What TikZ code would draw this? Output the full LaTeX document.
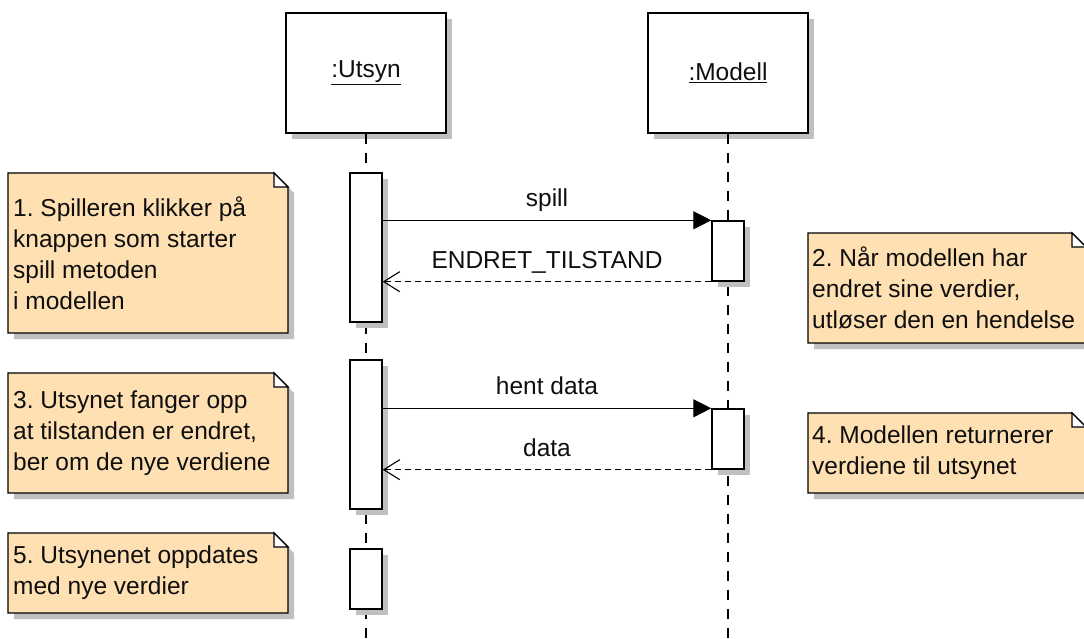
\documentclass[tikz,border=0pt]{standalone}
\usepackage{fontspec}
\setmainfont{Liberation Sans}
\usetikzlibrary{arrows.meta,shadows,calc}
\definecolor{notefill}{RGB}{255,224,178}
\definecolor{shadowgray}{RGB}{192,192,192}
\definecolor{txt}{RGB}{15,15,15}
\frenchspacing
\begin{document}
\begin{tikzpicture}[x=1pt,y=-1pt,
  every node/.style={font=\frenchspacing\fontsize{24.5}{31}\selectfont, text=txt},
  shad/.style={drop shadow={shadow xshift=6pt, shadow yshift=-6pt, fill=shadowgray, opacity=1}},
  header/.style={draw, line width=1.4pt, fill=white, shad, minimum width=160pt, minimum height=120pt, inner sep=0pt},
  actbox/.style={draw, line width=1.4pt, fill=white, shad, minimum width=32pt, inner sep=0pt},
  lifeline/.style={line width=1.3pt, dash pattern=on 10pt off 9pt},
  notebody/.style={draw, line width=1.3pt, fill=notefill, shad},
  foldcorner/.style={draw, line width=1.1pt, fill=white},
  notetext/.style={anchor=west, align=left, inner sep=0pt},
  callmsg/.style={line width=1.2pt, -{Triangle[length=18pt,width=18pt]}},
  retmsg/.style={line width=1.2pt, dash pattern=on 6pt off 4pt, -{Straight Barb[length=16pt,width=20pt,line width=1.1pt]}},
  msglabel/.style={anchor=base, yshift=13.5pt, inner sep=0pt}
]
\useasboundingbox (0,0) rectangle (1084,639);

% notes
\newcommand{\umlnote}[4]{%
  \path[notebody] (#1,#2) -- (#3-14,#2) -- (#3,#2+14) -- (#3,#4) -- (#1,#4) -- cycle;
  \path[foldcorner] (#3-14,#2) -- (#3-14,#2+14) -- (#3,#2+14) -- cycle;}
\umlnote{8}{173}{288}{333}
\umlnote{808}{233}{1086}{343}
\umlnote{8}{373}{288}{493}
\umlnote{808}{413}{1086}{493}
\umlnote{8}{533}{288}{613}

\node[notetext] (t1) at (13,253) {1. Spilleren klikker på\\knappen som starter\\spill metoden\\i modellen};
\node[notetext] (t2) at (812,288) {2. Når modellen har\\endret sine verdier,\\utløser den en hendelse};
\node[notetext] (t3) at (13,433) {3. Utsynet fanger opp\\at tilstanden er endret,\\ber om de nye verdiene};
\node[notetext] (t4) at (812,453) {4. Modellen returnerer\\verdiene til utsynet};
\node[notetext] (t5) at (13,573) {5. Utsynenet oppdates\\med nye verdier};

% headers
\node[header] (u) at (366,73) {\underline{:Utsyn}};
\node[header] (m) at (728,73) {\underline{:Modell}};
\coordinate (uend) at (366,639);
\coordinate (mend) at (728,639);
\draw[lifeline] (u.south) -- (uend);
\draw[lifeline] (m.south) -- (mend);

% activations
\node[actbox, minimum height=149pt] (au1) at (366,247.5) {};
\node[actbox, minimum height=149pt] (au2) at (366,434.5) {};
\node[actbox, minimum height=60pt] (au3) at (366,579) {};
\node[actbox, minimum height=60pt] (am1) at (728,251) {};
\node[actbox, minimum height=60pt] (am2) at (728,439) {};

% messages
\draw[callmsg] (au1.east |- am1.north west) -- node[msglabel] (l1) {spill} (am1.north west);
\draw[retmsg] (am1.south west) -- node[msglabel] (l2) {ENDRET\_TILSTAND} (au1.east |- am1.south west);
\draw[callmsg] (au2.east |- am2.north west) -- node[msglabel] (l3) {hent data} (am2.north west);
\draw[retmsg] (am2.south west) -- node[msglabel] (l4) {data} (au2.east |- am2.south west);
\end{tikzpicture}
\end{document}
